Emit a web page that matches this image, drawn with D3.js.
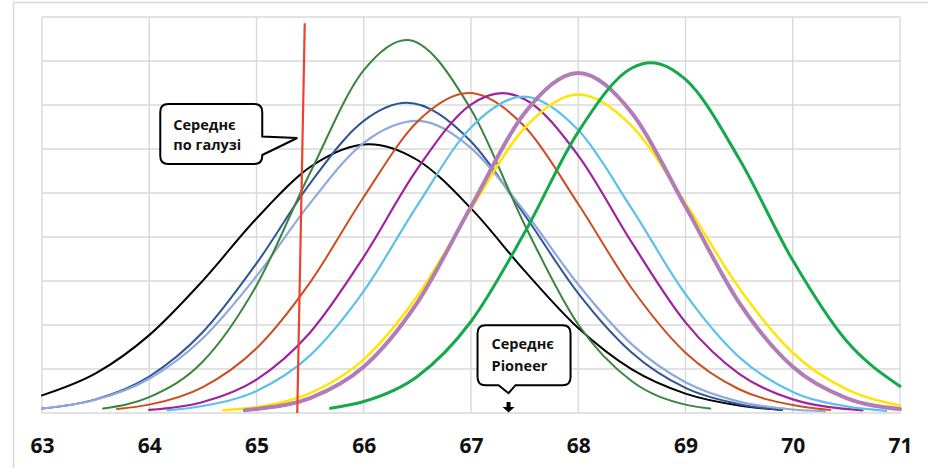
<!DOCTYPE html>
<html>
<head>
<meta charset="utf-8">
<script src="https://cdn.jsdelivr.net/npm/d3@7"></script>
<style>
  html, body { margin: 0; padding: 0; background: #fff; }
  svg text { font-family: "Open Sans", "DejaVu Sans", sans-serif; font-weight: bold; }
</style>
</head>
<body>
<svg id="chart" width="928" height="468"></svg>
<script>
// values: [x, value]
const xTicks = [63, 64, 65, 66, 67, 68, 69, 70, 71];
const yGrid = [0, 1, 2, 3, 4, 5, 6, 7, 8, 9];

const blackCurve = [[63,0.40],[63.5,0.90],[64,1.77],[64.5,3.01],[65,4.42],[65.5,5.59],[66.05,6.11],[66.5,5.75],[67,4.65],[67.5,3.23],[68,1.93],[68.5,0.99],[69,0.44],[69.5,0.17],[69.9,0.07]];
const navyCurve = [[63,0.10],[63.5,0.31],[64,0.83],[64.5,1.84],[65,3.40],[65.5,5.22],[66,6.64],[66.4,7.05],[67,6.17],[67.5,4.50],[68,2.72],[68.5,1.37],[69,0.57],[69.5,0.20],[69.9,0.07]];
const greyBlueCurve = [[63,0.10],[63.5,0.30],[64,0.78],[64.5,1.70],[65,3.11],[65.5,4.77],[66,6.14],[66.5,6.64],[67,6.02],[67.5,4.58],[68,2.92],[68.5,1.56],[69,0.70],[69.5,0.26],[70,0.08],[70.3,0.04]];
const darkGreenCurve = [[63.57,0.10],[64,0.36],[64.5,1.17],[65,2.90],[65.5,5.46],[66,7.79],[66.4,8.48],[67,6.90],[67.5,4.28],[68,2.01],[68.5,0.72],[69,0.19],[69.23,0.10]];
const orangeCurve = [[63.7,0.09],[64,0.19],[64.5,0.59],[65,1.47],[65.5,2.97],[66,4.91],[66.5,6.62],[66.98,7.27],[67.5,6.51],[68,4.75],[68.5,2.83],[69,1.37],[69.5,0.54],[70,0.18],[70.35,0.07]];
const purpleCurve = [[64,0.07],[64.5,0.25],[65,0.76],[65.5,1.83],[66,3.55],[66.5,5.55],[67,7.01],[67.29,7.27],[67.5,7.13],[68,5.85],[68.5,3.87],[69,2.06],[69.5,0.89],[70,0.31],[70.65,0.06]];
const skyCurve = [[64.17,0.06],[64.5,0.16],[65,0.50],[65.5,1.31],[66,2.77],[66.5,4.72],[67,6.49],[67.49,7.19],[68,6.43],[68.5,4.64],[69,2.70],[69.5,1.27],[70,0.48],[70.5,0.15],[70.87,0.05]];
const yellowCurve = [[64.69,0.06],[65,0.13],[65.5,0.45],[66,1.22],[66.5,2.66],[67,4.64],[67.5,6.48],[68,7.24],[68.5,6.52],[69,4.77],[69.5,2.84],[70,1.37],[70.5,0.54],[71,0.17]];
const mauveCurve = [[64.89,0.06],[65,0.09],[65.5,0.34],[66,1.05],[66.5,2.51],[67,4.69],[67.5,6.82],[68,7.73],[68.5,6.82],[69,4.69],[69.5,2.51],[70,1.05],[70.5,0.34],[71,0.09]];
const brightGreenCurve = [[65.69,0.11],[66,0.26],[66.5,0.83],[67,2.08],[67.5,4.10],[68,6.39],[68.5,7.84],[68.68,7.96],[69,7.58],[69.5,5.78],[70,3.47],[70.5,1.64],[71,0.61]];

// industry average marker
const industryLine = [[65.45,8.86],[65.38,0]];
const industryLabel = ['Середнє', 'по галузі'];
const industryTip = [65.38, 6.25];
const pioneerLabel = ['Середнє', 'Pioneer'];
const pioneerTip = [67.35, 0.45];

const svg = d3.select('#chart');
const margin = {left: 42, right: 28, top: 17, bottom: 55};
const width = 928, height = 468;

const x = d3.scaleLinear().domain([63, 71]).range([margin.left, width - margin.right]);
const y = d3.scaleLinear().domain([0, 9]).range([height - margin.bottom, margin.top]);

// outer frame
svg.append('rect')
  .attr('x', 13.5).attr('y', 2.5)
  .attr('width', 940).attr('height', 500)
  .attr('fill', 'none')
  .attr('stroke', '#d9d9d9')
  .attr('stroke-width', 1.5);

// grid
const grid = svg.append('g').attr('stroke', '#d9d9d9').attr('stroke-width', 1.4);
grid.selectAll('line.v')
  .data(xTicks)
  .enter().append('line')
  .attr('class', 'v')
  .attr('x1', d => x(d)).attr('x2', d => x(d))
  .attr('y1', y(9)).attr('y2', y(0));
grid.selectAll('line.h')
  .data(yGrid)
  .enter().append('line')
  .attr('class', 'h')
  .attr('x1', x(63)).attr('x2', x(71))
  .attr('y1', d => y(d)).attr('y2', d => y(d));

// x axis labels
const xAxis = svg.append('g')
  .attr('transform', 'translate(0,' + y(0) + ')')
  .call(d3.axisBottom(x).tickValues(xTicks).tickSize(0).tickPadding(25).tickFormat(d3.format('d')));
xAxis.select('.domain').remove();
xAxis.selectAll('text')
  .attr('font-family', '"Open Sans", sans-serif')
  .attr('font-weight', 'bold')
  .attr('font-size', 21)
  .attr('fill', '#111');

// curves
const series = [
  {data: blackCurve, color: '#000000', w: 2},
  {data: navyCurve, color: '#2F5597', w: 2},
  {data: greyBlueCurve, color: '#8EA9DB', w: 2.2},
  {data: darkGreenCurve, color: '#3A853F', w: 2},
  {data: orangeCurve, color: '#CC4E1F', w: 2},
  {data: purpleCurve, color: '#A0229D', w: 2.2},
  {data: skyCurve, color: '#5CC0EC', w: 2.2},
  {data: yellowCurve, color: '#FFE500', w: 2.5},
  {data: mauveCurve, color: '#B27CB7', w: 4},
  {data: brightGreenCurve, color: '#14A94B', w: 3}
];

const line = d3.line()
  .x(d => x(d[0]))
  .y(d => y(d[1]))
  .curve(d3.curveMonotoneX);

svg.append('g')
  .selectAll('path')
  .data(series)
  .enter().append('path')
  .attr('d', d => line(d.data))
  .attr('fill', 'none')
  .attr('stroke', d => d.color)
  .attr('stroke-width', d => d.w)
  .attr('stroke-linecap', 'round');

// industry average line
svg.append('path')
  .attr('d', d3.line().x(d => x(d[0])).y(d => y(d[1]))(industryLine))
  .attr('stroke', '#F0412E')
  .attr('stroke-width', 2.2)
  .attr('fill', 'none');

// callouts
function calloutPath(tx, ty, l, t, r, b, tail) {
  const c = 8;
  let p = 'M' + (l + c) + ',' + t + 'H' + (r - c) + 'Q' + r + ',' + t + ' ' + r + ',' + (t + c);
  if (tail === 'right') {
    p += 'V' + (ty - 1.5) + 'L' + tx + ',' + ty + 'L' + r + ',' + (ty + 17);
  }
  p += 'V' + (b - c) + 'Q' + r + ',' + b + ' ' + (r - c) + ',' + b;
  if (tail === 'bottom') {
    p += 'H' + (tx + 7) + 'L' + tx + ',' + ty + 'L' + (tx - 10) + ',' + b;
  }
  p += 'H' + (l + c) + 'Q' + l + ',' + b + ' ' + l + ',' + (b - c) +
       'V' + (t + c) + 'Q' + l + ',' + t + ' ' + (l + c) + ',' + t + 'Z';
  return p;
}

// industry callout
let tx = x(industryTip[0]), ty = y(industryTip[1]);
let g1 = svg.append('g');
g1.append('path')
  .attr('d', calloutPath(tx, ty, tx - 137, ty - 34, tx - 35, ty + 26, 'right'))
  .attr('fill', '#fff').attr('stroke', '#000').attr('stroke-width', 2);
g1.selectAll('text')
  .data(industryLabel)
  .enter().append('text')
  .attr('x', tx - 124)
  .attr('y', (d, i) => ty - 8 + i * 20)
  .attr('font-size', 14.5)
  .attr('fill', '#111')
  .text(d => d);

// pioneer callout
tx = x(pioneerTip[0]); ty = y(pioneerTip[1]);
let g2 = svg.append('g');
g2.append('path')
  .attr('d', calloutPath(tx, ty, tx - 31, ty - 68, tx + 62, ty - 8, 'bottom'))
  .attr('fill', '#fff').attr('stroke', '#000').attr('stroke-width', 2);
g2.selectAll('text')
  .data(pioneerLabel)
  .enter().append('text')
  .attr('x', tx - 17)
  .attr('y', (d, i) => ty - 44 + i * 22)
  .attr('font-size', 14.5)
  .attr('fill', '#111')
  .text(d => d);

// small arrow down to the axis
const ax = x(pioneerTip[0]), ay = y(0);
svg.append('path')
  .attr('d', 'M' + (ax - 2) + ',' + (ay - 11) + 'H' + (ax + 2) + 'V' + (ay - 6) +
             'H' + (ax + 6) + 'L' + ax + ',' + (ay - 0.5) + 'L' + (ax - 6) + ',' + (ay - 6) +
             'H' + (ax - 2) + 'Z')
  .attr('fill', '#000');
</script>
</body>
</html>
